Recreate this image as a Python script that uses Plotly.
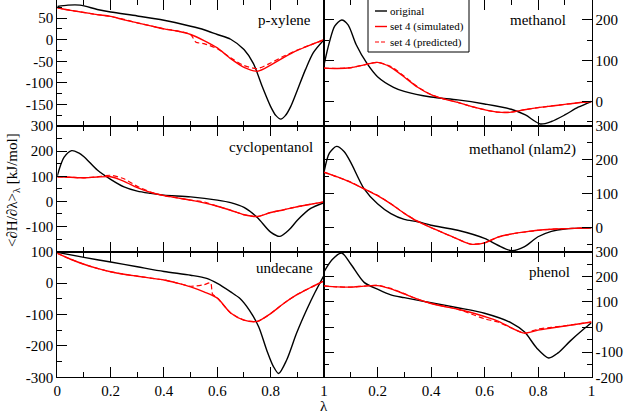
import plotly.graph_objects as go

# common lambda grid for the reweighted curves
lam = [0, 0.05, 0.1, 0.15, 0.2, 0.25, 0.3, 0.35, 0.4, 0.45, 0.5,
       0.55, 0.6, 0.65, 0.7, 0.75, 0.8, 0.85, 0.9, 0.95, 1.0]

# p-xylene
pxy_orig_lam = [0, 0.04, 0.085, 0.15, 0.2, 0.3, 0.4, 0.5, 0.55, 0.6, 0.65, 0.7,
                0.735, 0.77, 0.8, 0.82, 0.838, 0.855, 0.875, 0.9, 0.93, 0.96, 1.0]
pxy_orig = [77, 80, 80, 70, 64, 55, 45, 31, 23, 12, 1, -23,
            -55, -111, -155, -176, -184, -176, -155, -117, -70, -30, 0]
pxy_sim = [74, 68, 63, 58, 54, 46, 39, 32, 25, 20, 12,
           -2, -19, -44, -64, -73, -59, -41, -25, -12, 0]
pxy_pred_lam = [0, 0.05, 0.1, 0.15, 0.2, 0.25, 0.3, 0.35, 0.4, 0.45, 0.5, 0.52,
                0.55, 0.6, 0.65, 0.7, 0.75, 0.8, 0.85, 0.9, 0.95, 1.0]
pxy_pred = [74, 68, 63, 58, 54, 47, 39, 32, 25, 20, 12, -6,
            -9, -21, -42, -60, -67, -54, -38, -24, -12, 0]

# methanol
met_orig_lam = [0, 0.02, 0.04, 0.066, 0.09, 0.12, 0.16, 0.2, 0.26, 0.3, 0.4, 0.5,
                0.6, 0.7, 0.753, 0.809, 0.85, 0.9, 0.95, 1.0]
met_orig = [90, 145, 185, 200, 188, 140, 94, 61, 35, 25, 11, 4,
            -6, -19, -33, -55, -49, -33, -14, 0]
met_sim = [82, 81, 83, 90, 96, 84, 60, 35, 17, 6, -2,
           -12, -20, -26, -26, -20, -15, -11, -7, -3, 0]
met_pred = [82, 81, 83, 90, 96, 86, 62, 36, 17, 6, -2,
            -12, -20, -26, -26, -20, -15, -11, -7, -3, 0]

# cyclopentanol
cyc_orig_lam = [0, 0.025, 0.054, 0.08, 0.1, 0.15, 0.2, 0.25, 0.3, 0.35, 0.4, 0.5,
                0.6, 0.65, 0.7, 0.75, 0.8, 0.835, 0.87, 0.9, 0.95, 1.0]
cyc_orig = [102, 175, 202, 193, 178, 125, 88, 58, 41, 32, 25, 18,
            5, -5, -24, -64, -122, -139, -112, -75, -28, -5]
cyc_sim = [98, 96, 94, 97, 98, 80, 55, 36, 23, 14, 5,
           -6, -19, -35, -53, -60, -44, -33, -21, -11, -2]
cyc_pred = [98, 96, 94, 98, 104, 90, 60, 37, 23, 14, 5,
            -2, -19, -35, -53, -60, -44, -33, -21, -11, -2]

# methanol (nlam2)
nl2_orig_lam = [0, 0.02, 0.047, 0.075, 0.1, 0.15, 0.2, 0.25, 0.3, 0.35, 0.4, 0.5,
                0.6, 0.65, 0.702, 0.75, 0.8, 0.85, 0.9, 1.0]
nl2_orig = [164, 220, 240, 225, 193, 115, 71, 42, 25, 18, 8, -7,
            -31, -51, -67, -55, -26, -10, -3, 0]
nl2_sim = [164, 150, 134, 115, 95, 71, 43, 19, 1, -16, -33,
           -48, -44, -27, -18, -12, -7, -4, -2, -1, 0]
nl2_pred = [164, 150, 135, 115, 96, 71, 43, 20, 1, -16, -33,
            -48, -44, -27, -18, -12, -7, -4, -2, -1, 0]

# undecane
und_orig_lam = [0, 0.1, 0.2, 0.3, 0.4, 0.5, 0.56, 0.6, 0.65, 0.685, 0.72, 0.755,
                0.785, 0.81, 0.83, 0.86, 0.897, 0.935, 0.966, 1.0]
und_orig = [98, 82, 67, 52, 37, 25, 15, -1, -28, -49, -86, -139,
            -213, -265, -288, -245, -160, -85, -30, 25]
und_sim = [95, 76, 60, 47, 36, 28, 22, 16, 10, 0, -12,
           -28, -48, -95, -118, -122, -97, -64, -36, -14, 7]
und_pred_lam = [0, 0.05, 0.1, 0.15, 0.2, 0.25, 0.3, 0.35, 0.4, 0.45, 0.5, 0.55,
                0.575, 0.582, 0.6, 0.65, 0.7, 0.75, 0.8, 0.85, 0.9, 0.95, 1.0]
und_pred = [95, 76, 60, 47, 36, 28, 22, 16, 10, 0, -10, -5,
            1, -35, -47, -95, -118, -122, -97, -64, -36, -14, 7]

# phenol
phe_orig_lam = [0, 0.03, 0.066, 0.1, 0.15, 0.2, 0.25, 0.3, 0.4, 0.5, 0.6, 0.7,
                0.75, 0.795, 0.84, 0.875, 0.92, 0.97, 1.0]
phe_orig = [220, 268, 295, 251, 178, 151, 128, 117, 97, 77, 55, 17,
            -20, -83, -123, -103, -56, -9, 17]
phe_sim = [164, 160, 159, 163, 165, 152, 132, 111, 94, 82, 71,
           58, 42, 24, -3, -24, -12, -4, 4, 12, 20]
phe_pred = [164, 160, 159, 163, 166, 154, 133, 111, 94, 82, 71,
            52, 33, 20, -3, -24, -8, -1, 5, 12, 20]

names = ["p-xylene", "methanol", "cyclopentanol", "methanol (nlam2)", "undecane", "phenol"]
orig_lams = [pxy_orig_lam, met_orig_lam, cyc_orig_lam, nl2_orig_lam, und_orig_lam, phe_orig_lam]
origs = [pxy_orig, met_orig, cyc_orig, nl2_orig, und_orig, phe_orig]
sims = [pxy_sim, met_sim, cyc_sim, nl2_sim, und_sim, phe_sim]
pred_lams = [pxy_pred_lam, lam, lam, lam, und_pred_lam, lam]
preds = [pxy_pred, met_pred, cyc_pred, nl2_pred, und_pred, phe_pred]

series_names = ["original", "set 4 (simulated)", "set 4 (predicted)"]

y_ranges = [[-200, 91], [-60, 248], [-200, 300], [-70, 300], [-300, 100], [-200, 300]]
y_ticks = [[-200, -150, -100, -50, 0, 50],
           [0, 100, 200],
           [-200, -100, 0, 100, 200, 300],
           [0, 100, 200, 300],
           [-300, -200, -100, 0, 100],
           [-200, -100, 0, 100, 200, 300]]
y_hidden = [[-200], [], [-200], [], [], []]
y_minor = [25, 50, 50, 50, 50, 50]
x_ticks = [0, 0.2, 0.4, 0.6, 0.8, 1]

font = "Liberation Serif"
fig = go.Figure()

for i in range(6):
    xa = "x" if i == 0 else "x%d" % (i + 1)
    ya = "y" if i == 0 else "y%d" % (i + 1)
    fig.add_trace(go.Scatter(x=orig_lams[i], y=origs[i], xaxis=xa, yaxis=ya,
                             mode="lines", name=series_names[0], showlegend=False,
                             line=dict(color="black", width=1.4, shape="spline", smoothing=0.8)))
    fig.add_trace(go.Scatter(x=lam, y=sims[i], xaxis=xa, yaxis=ya,
                             mode="lines", name=series_names[1], showlegend=False,
                             line=dict(color="red", width=1.4, shape="spline", smoothing=0.8)))
    fig.add_trace(go.Scatter(x=pred_lams[i], y=preds[i], xaxis=xa, yaxis=ya,
                             mode="lines", name=series_names[2], showlegend=False,
                             line=dict(color="red", width=1.2, dash="5px,3px",
                                       shape="spline", smoothing=0.6)))

W, H = 625, 414
xl = [57.3 / W, 324 / W]
xr = [324 / W, 591.5 / W]
rows = [[(H - 126) / H, (H - 0.4) / H],
        [(H - 251.7) / H, (H - 126) / H],
        [(H - 377.3) / H, (H - 251.7) / H]]

layout = dict(
    width=W, height=H,
    margin=dict(l=0, r=0, t=0, b=0, autoexpand=False),
    paper_bgcolor="white", plot_bgcolor="white",
    font=dict(family=font, size=15, color="black"),
    showlegend=False,
)

for i in range(6):
    row, col = i // 2, i % 2
    sx = "" if i == 0 else str(i + 1)
    bottom = row == 2
    if bottom and col == 1:
        xtext = ["", "0.2", "0.4", "0.6", "0.8", "1"]
    else:
        xtext = ["0", "0.2", "0.4", "0.6", "0.8", "1"]
    layout["xaxis" + sx] = dict(
        domain=xl if col == 0 else xr, range=[0, 1], anchor="y" + sx, automargin=False,
        showgrid=False, zeroline=False, showline=True, linecolor="black", linewidth=1,
        mirror="ticks", ticks="inside", ticklen=10, tickcolor="black",
        tickmode="array", tickvals=x_ticks, ticktext=xtext, showticklabels=bottom,
        tickfont=dict(family=font, size=15),
        minor=dict(ticks="inside", ticklen=5, tickcolor="black", tickmode="linear",
                   tick0=0, dtick=0.1),
    )
    ytext = ["" if v in y_hidden[i] else str(v) for v in y_ticks[i]]
    layout["yaxis" + sx] = dict(
        domain=rows[row], range=y_ranges[i], anchor="x" + sx, automargin=False,
        side="left" if col == 0 else "right",
        showgrid=False, zeroline=False, showline=True, linecolor="black", linewidth=1,
        mirror=True if col == 0 else "ticks", ticks="inside", ticklen=10, tickcolor="black",
        tickmode="array", tickvals=y_ticks[i], ticktext=ytext,
        tickfont=dict(family=font, size=15),
        minor=dict(ticks="inside", ticklen=5, tickcolor="black", tickmode="linear",
                   tick0=0, dtick=y_minor[i]),
    )

# legend box drawn as a paper-space frame with line samples
leg_left, leg_right, leg_bottom = 368 / W, 469 / W, (H - 52) / H
leg_rows = [(H - 11) / H, (H - 26.5) / H, (H - 42) / H]
leg_styles = [dict(color="black", width=1.4), dict(color="red", width=1.4),
              dict(color="red", width=1.2, dash="4px,2px")]
shapes = [dict(type="rect", xref="paper", yref="paper", x0=leg_left, x1=leg_right,
               y0=leg_bottom, y1=1.01, line=dict(color="black", width=1), fillcolor="white",
               layer="above")]
for yy, st in zip(leg_rows, leg_styles):
    shapes.append(dict(type="line", xref="paper", yref="paper", x0=375 / W, x1=387 / W,
                       y0=yy, y1=yy, line=st, layer="above"))
layout["shapes"] = shapes

fig.update_layout(**layout)

for yy, txt in zip(leg_rows, series_names):
    fig.add_annotation(text=txt, xref="paper", yref="paper", x=388 / W, y=yy,
                       xanchor="left", yanchor="middle", showarrow=False,
                       font=dict(family=font, size=11))

label_pos = [(0.96, 0.844), (0.912, 0.844), (0.966, 0.836),
             (0.95, 0.81), (0.966, 0.868), (0.926, 0.84)]
for i in range(6):
    sx = "" if i == 0 else str(i + 1)
    fig.add_annotation(text=names[i], xref="x%s domain" % sx, yref="y%s domain" % sx,
                       x=label_pos[i][0], y=label_pos[i][1], xanchor="right", yanchor="middle",
                       showarrow=False, font=dict(family=font, size=15))

fig.add_annotation(text="&lt;∂H/∂λ&gt;<sub>λ</sub> [kJ/mol]", xref="paper", yref="paper",
                   x=13 / W, y=(H - 190) / H, textangle=-90, showarrow=False,
                   xanchor="center", yanchor="middle", font=dict(family=font, size=15))
fig.add_annotation(text="λ", xref="paper", yref="paper", x=324 / W, y=(H - 406) / H,
                   showarrow=False, xanchor="center", yanchor="middle",
                   font=dict(family=font, size=15))

# drop the page's default body margin so the figure fills the window
fig.write_html("out.html", config={"displayModeBar": False},
               post_script="document.body.style.margin='0px';document.body.style.overflow='hidden';")
